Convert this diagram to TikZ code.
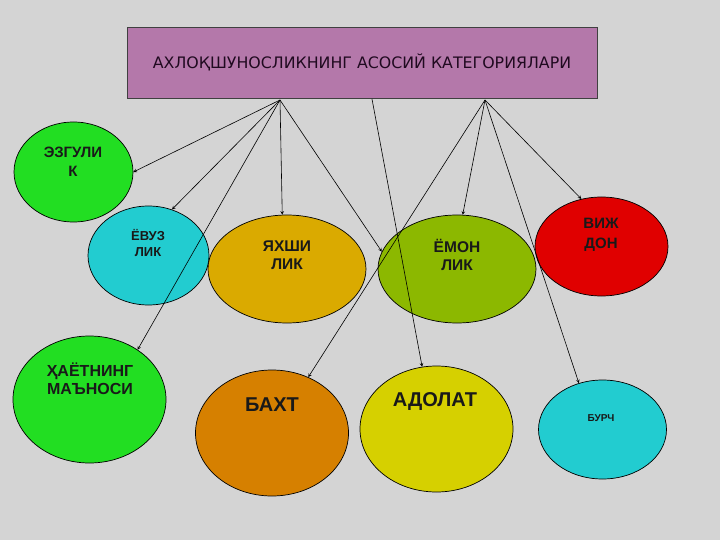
\documentclass[tikz,border=0pt]{standalone}
\usepackage{fontspec}
\setmainfont{Liberation Sans}
\newfontfamily\titlefont{DejaVu Sans}
\usetikzlibrary{shapes.geometric}
\definecolor{bggray}{RGB}{212,212,212}
\definecolor{titlemauve}{RGB}{180,120,170}
\definecolor{titletext}{RGB}{32,10,32}
\definecolor{cgreen}{RGB}{34,222,34}
\definecolor{ccyan}{RGB}{34,204,208}
\definecolor{cgold}{RGB}{218,170,0}
\definecolor{colive}{RGB}{140,184,0}
\definecolor{cred}{RGB}{224,0,0}
\definecolor{corange}{RGB}{214,128,0}
\definecolor{cyellow}{RGB}{214,208,0}
\newcommand\lsize[2]{\fontsize{#1}{#2}\selectfont}
\begin{document}
\begin{tikzpicture}[x=1pt, y=-1pt,
        cat/.style={ellipse, draw=black, line width=0.7pt, inner sep=0pt},
        lbl/.style={align=center, text=black!90, inner sep=0pt},
        arr/.style={-stealth, line width=0.6pt}]
            \useasboundingbox (0,0) rectangle (720,540);
            \fill[bggray] (0,0) rectangle (720,540);
            % title
            \node[draw=black!75, fill=titlemauve, minimum width=470pt, minimum height=71pt, text=titletext, font=\titlefont\lsize{15.8}{18}] (title) at (362,62.5) {АХЛОҚШУНОСЛИКНИНГ АСОСИЙ КАТЕГОРИЯЛАРИ};
            \coordinate (lo) at (280,100);
            \coordinate (mo) at (372,99);
            \coordinate (ro) at (485,100);
            % categories
            \node[cat, fill=cgreen, minimum width=119pt, minimum height=100pt] (ezgulik) at (73.5,172) {};
            \node[cat, fill=ccyan, minimum width=121pt, minimum height=99pt] (yovuz) at (148.5,255.5) {};
            \node[cat, fill=cgold, minimum width=158pt, minimum height=108pt] (yaxshi) at (287,269) {};
            \node[cat, fill=colive, minimum width=158pt, minimum height=108pt] (yomon) at (457,269) {};
            \node[cat, fill=cred, minimum width=133pt, minimum height=99pt] (vijdon) at (601.5,246.5) {};
            \node[cat, fill=cgreen, minimum width=153pt, minimum height=127pt] (hayot) at (89.5,399.5) {};
            \node[cat, fill=corange, minimum width=153pt, minimum height=126pt] (baxt) at (272,433) {};
            \node[cat, fill=cyellow, minimum width=153pt, minimum height=126pt] (adolat) at (436.5,429) {};
            \node[cat, fill=ccyan, minimum width=128pt, minimum height=99pt] (burch) at (602.5,429.5) {};
            % arrows
            \draw[arr] (lo) -- (ezgulik.0);
            \draw[arr] (lo) -- (yovuz.63);
            \draw[arr] (lo) -- (yaxshi.95);
            \draw[arr] (lo) -- (yomon.167);
            \draw[arr] (lo) -- (hayot.46);
            \draw[arr] (mo) -- (adolat.103);
            \draw[arr] (ro) -- (baxt.57);
            \draw[arr] (ro) -- (yomon.84);
            \draw[arr] (ro) -- (vijdon.113);
            \draw[arr] (ro) -- (burch.117);
            % labels
            \node[lbl, font=\bfseries\lsize{15}{19}] (ezgulik-t) at (73,161.5) {ЭЗГУЛИ\\К};
            \node[lbl, font=\bfseries\lsize{13}{15.5}] (yovuz-t) at (148,243) {ЁВУЗ\\ЛИК};
            \node[lbl, font=\bfseries\lsize{15.5}{18}] (yaxshi-t) at (287,255) {ЯХШИ\\ЛИК};
            \node[lbl, font=\bfseries\lsize{15.5}{18}] (yomon-t) at (457,255) {ЁМОН\\ЛИК};
            \node[lbl, font=\bfseries\lsize{15}{20}] (vijdon-t) at (601,235) {ВИЖ\\ДОН};
            \node[lbl, font=\bfseries\lsize{16}{18}] (hayot-t) at (90,379) {ҲАЁТНИНГ\\МАЪНОСИ};
            \node[lbl, font=\bfseries\lsize{20}{24}] (baxt-t) at (272,405) {БАХТ};
            \node[lbl, font=\bfseries\lsize{20}{24}] (adolat-t) at (435,402) {АДОЛАТ};
            \node[lbl, font=\bfseries\lsize{10}{12}] (burch-t) at (601,418) {БУРЧ};
        \end{tikzpicture}
\end{document}
